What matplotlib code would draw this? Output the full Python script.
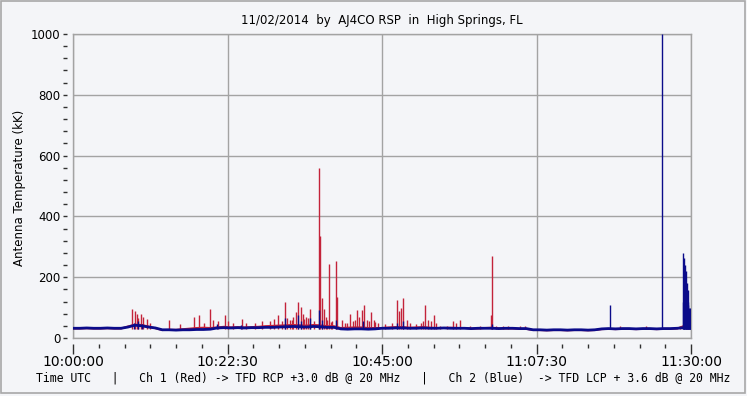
import matplotlib
matplotlib.use("Agg")
import matplotlib.pyplot as plt
from matplotlib.patches import Rectangle
from matplotlib.ticker import MultipleLocator

# minutes after 10:00:00 UTC
minutes = list(range(0, 91))

blue_base = [32, 32, 33, 32, 32, 33, 32, 32, 36, 42,
             40, 36, 33, 27, 27, 26, 27, 27, 28, 28,
             29, 33, 34, 33, 34, 33, 34, 34, 35, 35,
             36, 37, 38, 37, 36, 38, 37, 35, 35, 30,
             29, 30, 30, 29, 30, 32, 32, 33, 33, 32,
             32, 33, 32, 32, 33, 32, 32, 32, 31, 32,
             32, 32, 31, 32, 32, 31, 31, 27, 27, 26,
             27, 27, 26, 27, 27, 26, 27, 30, 31, 30,
             31, 31, 30, 31, 31, 30, 31, 31, 32, 34,
             40]

red_base = [31, 31, 32, 31, 31, 32, 31, 31, 38, 44,
            43, 38, 32, 26, 27, 27, 29, 31, 33, 34,
            33, 35, 37, 35, 36, 35, 36, 37, 39, 40,
            41, 42, 43, 42, 41, 43, 42, 39, 39, 33,
            34, 35, 35, 33, 33, 33, 35, 36, 36, 34,
            35, 36, 34, 33, 33, 34, 33, 33, 31, 31,
            33, 34, 32, 31, 31, 30, 30, 26, 26, 25,
            26, 26, 25, 26, 26, 25, 26, 29, 30, 29,
            30, 30, 29, 30, 30, 29, 30, 30, 31, 40,
            40]

red_spike_t = [8.64, 9.03, 9.28, 9.47, 9.86, 10.24, 10.73, 11.2, 14.02, 15.6,
               17.62, 18.35, 19.1, 19.95, 20.4, 21.16, 22.14, 22.6, 23.3, 24.57,
               25.2, 26.5, 27.5, 28.7, 29.3, 29.9, 30.4, 30.87, 31.6, 32.0,
               32.5, 32.8, 33.16, 33.5, 33.9, 34.5, 35.1, 35.83, 36.0, 36.2,
               36.6, 37.0, 37.33, 37.7, 38.35, 38.5, 39.13, 39.6, 40.34, 40.8,
               41.3, 41.65, 42.04, 42.33, 42.8, 43.4, 43.8, 44.4, 45.4, 46.45,
               47.23, 47.5, 47.77, 48.1, 49.1, 49.95, 50.7, 51.3, 51.7, 52.14,
               52.6, 53.45, 54.47, 55.4, 55.8, 56.36, 57.8, 59.3, 60.9, 61.07,
               61.6, 62.67, 63.35, 65.1, 65.8, 79.7, 83.4, 88.4, 88.96, 89.25,
               89.5, 31.1, 31.9, 33.7, 34.2, 36.9, 37.5, 39.9, 41.0, 43.1,
               44.0, 48.6, 51.0, 52.9]
red_spike_v = [97, 90, 80, 65, 80, 70, 62, 50, 58, 45,
               70, 75, 50, 94, 60, 55, 75, 55, 50, 64,
               50, 48, 55, 55, 64, 75, 55, 120, 60, 70,
               85, 120, 103, 80, 70, 97, 55, 558, 335, 131,
               97, 60, 242, 55, 253, 136, 60, 50, 78, 55,
               92, 70, 92, 108, 60, 85, 60, 50, 45, 50,
               125, 90, 98, 130, 50, 45, 50, 108, 60, 55,
               76, 40, 40, 56, 50, 59, 38, 38, 76, 270,
               40, 40, 38, 38, 38, 40, 38, 40, 60, 50,
               45, 65, 58, 62, 66, 70, 52, 48, 58, 55,
               52, 60, 55, 48]

blue_spike_t = [8.9, 9.5, 10.0, 21.0, 24.5, 30.87, 32.8, 33.2, 34.5, 35.83,
                36.2, 38.35, 42.3, 47.2, 48.1, 61.07, 78.25, 85.82, 88.8, 88.87,
                88.95, 89.0, 89.05, 89.1, 89.15, 89.2, 89.25, 89.3, 89.35, 89.4,
                89.45, 89.5, 89.55, 89.6, 89.65, 89.7, 89.75, 89.8, 89.85, 89.9,
                89.95]
blue_spike_v = [50, 55, 45, 45, 42, 65, 75, 55, 65, 92,
                60, 60, 55, 50, 55, 45, 108, 1000, 120, 280,
                200, 263, 180, 240, 150, 170, 130, 221, 140, 180,
                120, 158, 110, 120, 90, 98, 80, 100, 88, 75,
                70]

tick_pos = [0, 22.5, 45, 67.5, 90]
tick_lab = ["10:00:00", "10:22:30", "10:45:00", "11:07:30", "11:30:00"]

RED = "#c3233a"
BLUE = "#0b0b8a"
BG = "#f4f5f8"
GRID = "#a3a3a3"

fig = plt.figure(figsize=(7.47, 3.96), dpi=100, facecolor=BG)
ax = fig.add_axes([73 / 747, 1 - 338 / 396, 618 / 747, 304 / 396])
ax.set_facecolor(BG)

ax.plot(minutes, red_base, color=RED, lw=1.4, zorder=2)
ax.vlines(red_spike_t, 28, red_spike_v, color=RED, lw=1.0, zorder=2)
ax.plot(minutes, blue_base, color=BLUE, lw=2.0, zorder=3)
ax.vlines(blue_spike_t, 28, blue_spike_v, color=BLUE, lw=1.0, zorder=3)

ax.set_xlim(0, 90)
ax.set_ylim(0, 1000)
ax.xaxis.set_minor_locator(MultipleLocator(3.75))
ax.set_xticks(tick_pos)
ax.set_xticklabels(tick_lab, family="DejaVu Sans Mono", fontsize=8.5)
ax.yaxis.set_major_locator(MultipleLocator(200))
ax.yaxis.set_minor_locator(MultipleLocator(40))
ax.tick_params(axis="y", which="both", length=3, width=1, color="#303030",
               labelsize=8.5, pad=2)
ax.tick_params(axis="x", which="major", length=7, width=1, color="#303030", pad=1)
ax.tick_params(axis="x", which="minor", length=3, width=1, color="#303030")

ax.grid(True, which="major", color=GRID, lw=1)
ax.set_axisbelow(True)
for s in ax.spines.values():
    s.set_color(GRID)
    s.set_linewidth(1)
ax.spines["bottom"].set_position(("outward", 4))
ax.spines["bottom"].set_visible(False)
ax.spines["left"].set_position(("outward", 4))
ax.spines["left"].set_visible(False)
ax.axhline(0, color=GRID, lw=1, zorder=1, clip_on=False)
ax.axvline(0, color=GRID, lw=1, zorder=1, clip_on=False)

ax.set_title("11/02/2014  by  AJ4CO RSP  in  High Springs, FL", fontsize=8.5, pad=7)
fig.text(20 / 747, 1 - 188 / 396, "Antenna Temperature (kK)", rotation=90,
         ha="center", va="center", fontsize=8.5)
fig.text(383 / 747, 1 - 378 / 396,
         "Time UTC   |   Ch 1 (Red) -> TFD RCP +3.0 dB @ 20 MHz   |   "
         "Ch 2 (Blue)  -> TFD LCP + 3.6 dB @ 20 MHz",
         ha="center", va="center", family="DejaVu Sans Mono", fontsize=8.3)

fig.patches.append(Rectangle((1 / 747, 3 / 396), 744 / 747, 392 / 396,
                             transform=fig.transFigure, fill=False,
                             edgecolor="#a8a8a8", lw=1.2))

fig.savefig("out.png", dpi=100, facecolor=BG)
